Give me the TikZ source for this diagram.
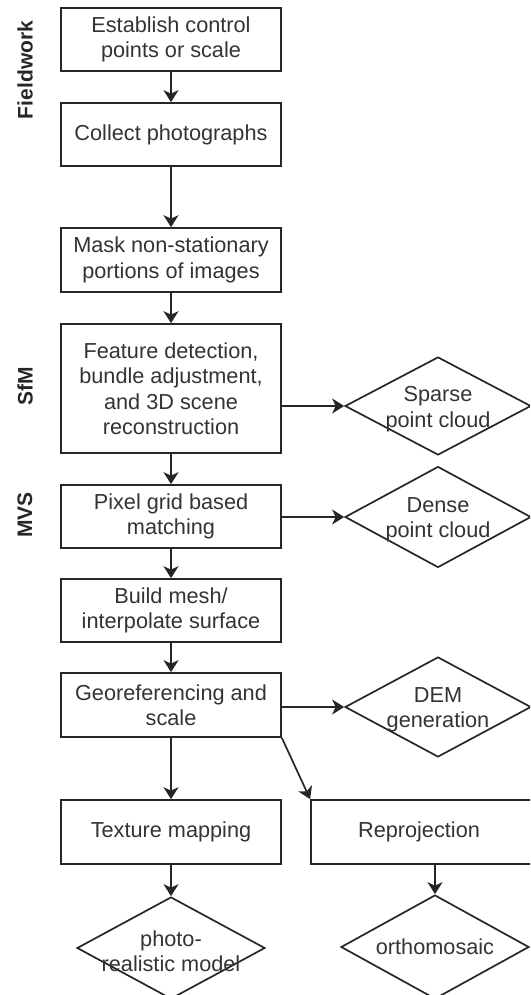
\documentclass[tikz,border=0pt]{standalone}
\usepackage{fontspec}
\setmainfont{Liberation Sans}
\usetikzlibrary{shapes.geometric,arrows.meta}
\begin{document}
\begin{tikzpicture}[x=1pt,y=-1pt,
  ink/.style={draw=black!85, line width=1.7pt},
  txtfont/.style={font=\fontsize{21.7}{25.5}\selectfont, text=black!80},
  stepbox/.style={ink, rectangle, minimum width=220pt, align=center, inner sep=0pt, txtfont},
  outbox/.style={ink, diamond, minimum width=186pt, inner sep=0pt},
  lbl/.style={align=center, inner sep=0pt, txtfont},
  phase/.style={rotate=90, inner sep=0pt, font=\bfseries\fontsize{21}{21}\selectfont, text=black!85},
  arr/.style={ink, -{Stealth[length=12pt,width=15pt,inset=3.5pt]}}
]
\useasboundingbox (0,0) rectangle (530,995);
\clip (0,0) rectangle (530,995);

% phase labels
\node[phase] (pf) at (25,70) {Fieldwork};
\node[phase] (ps) at (25,386) {SfM};
\node[phase] (pm) at (25,515) {MVS};

% main processing steps
\node[stepbox, minimum height=63pt] (b1) at (171,39.5) {Establish control\\points or scale};
\node[stepbox, minimum height=63pt] (b2) at (171,134.5) {Collect photographs};
\node[stepbox, minimum height=64pt] (b3) at (171,260) {Mask non-stationary\\portions of images};
\node[stepbox, minimum height=129pt] (b4) at (171,388.5) {Feature detection,\\bundle adjustment,\\and 3D scene\\reconstruction};
\node[stepbox, minimum height=63pt] (b5) at (171,516.5) {Pixel grid based\\matching};
\node[stepbox, minimum height=63pt] (b6) at (171,610.5) {Build mesh/\\interpolate surface};
\node[stepbox, minimum height=64pt] (b7) at (171,705) {Georeferencing and\\scale};
\node[stepbox, minimum height=64pt] (b8) at (171,832) {Texture mapping};
\node[stepbox, minimum width=248pt, minimum height=64pt] (b9) at (435,832) {};
\node[lbl] (t9) at (419,832) {Reprojection};

% products
\node[outbox, minimum height=98pt] (d1) at (438,406) {};
\node[lbl] (t1) at ([yshift=-3pt]d1.center) {Sparse\\point cloud};
\node[outbox, minimum height=101pt] (d2) at (438,517) {};
\node[lbl] (t2) at ([yshift=-3pt]d2.center) {Dense\\point cloud};
\node[outbox, minimum height=100pt] (d3) at (438,707) {};
\node[lbl] (t3) at ([yshift=-3pt]d3.center) {DEM\\generation};
\node[outbox, minimum width=188pt, minimum height=102pt] (d4) at (171,948) {};
\node[lbl] (t4) at ([yshift=-3pt]d4.center) {photo-\\realistic model};
\node[outbox, minimum width=188pt, minimum height=104pt] (d5) at (435,947) {};
\node[lbl] (t5) at (d5.center) {orthomosaic};

% flow
\draw[arr] (b1.south) -- (b2.north);
\draw[arr] (b2.south) -- (b3.north);
\draw[arr] (b3.south) -- (b4.north);
\draw[arr] (b4.south) -- (b5.north);
\draw[arr] (b5.south) -- (b6.north);
\draw[arr] (b6.south) -- (b7.north);
\draw[arr] (b7.south) -- (b8.north);
\draw[arr] (b7.south east) -- (b9.north west);
\draw[arr] (b8.south) -- (d4.north);
\draw[arr] (b9.south) -- (d5.north);
\draw[arr] (b4.east |- d1.west) -- (d1.west);
\draw[arr] (b5.east |- d2.west) -- (d2.west);
\draw[arr] (b7.east |- d3.west) -- (d3.west);
\end{tikzpicture}
\end{document}
